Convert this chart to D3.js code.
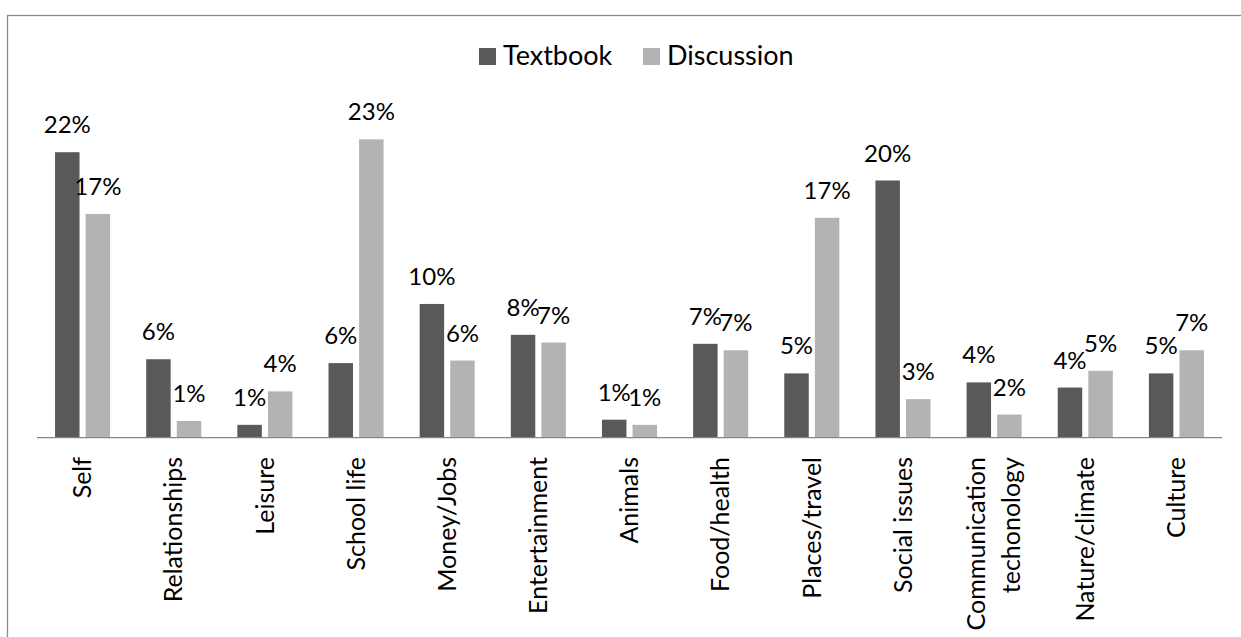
<!DOCTYPE html>
<html>
<head>
<meta charset="utf-8">
<script src="https://cdn.jsdelivr.net/npm/d3@7"></script>
<style>
  body { margin: 0; background: #fff; }
  text { font-family: Lato, "Open Sans", sans-serif; fill: #000; }
</style>
</head>
<body>
<div id="chart-area"></div>
<script>
// Data (share of topics)
const categories = ["Self", "Relationships", "Leisure", "School life", "Money/Jobs",
  "Entertainment", "Animals", "Food/health", "Places/travel", "Social issues",
  "Communication\ntechonology", "Nature/climate", "Culture"];
const series = ["Textbook", "Discussion"];
const textbook   = [0.222, 0.061, 0.010, 0.058, 0.104, 0.080, 0.014, 0.073, 0.050, 0.200, 0.043, 0.039, 0.050];
const discussion = [0.174, 0.013, 0.036, 0.232, 0.060, 0.074, 0.010, 0.068, 0.171, 0.030, 0.018, 0.052, 0.068];

const W = 1241, H = 637;
const baseY = 437.7;
const colors = { Textbook: "#595959", Discussion: "#b3b3b3" };

const svg = d3.select("#chart-area")
  .append("svg")
    .attr("width", W)
    .attr("height", H);

// outer frame (runs off the right and bottom edges)
svg.append("rect")
  .attr("x", 7.5)
  .attr("y", 15.5)
  .attr("width", W)
  .attr("height", H)
  .attr("fill", "none")
  .attr("stroke", "#8c8c8c")
  .attr("stroke-width", 1.3);

const x0 = d3.scaleBand()
  .domain(categories)
  .range([37, 1222]);

const x1 = d3.scaleBand()
  .domain(series)
  .range([0, x0.bandwidth()])
  .paddingInner(0.2)
  .paddingOuter(0.59);

const y = d3.scaleLinear()
  .domain([0, 0.25])
  .range([baseY, baseY - 25 * 12.86]);

const rows = categories.map((c, i) => ({
  cat: c,
  vals: [{ s: "Textbook", v: textbook[i] }, { s: "Discussion", v: discussion[i] }]
}));

const groups = svg.selectAll("g.cat")
  .data(rows)
  .enter()
  .append("g")
    .attr("class", "cat")
    .attr("transform", d => "translate(" + x0(d.cat) + ",0)");

groups.selectAll("rect")
  .data(d => d.vals)
  .enter()
  .append("rect")
    .attr("x", d => x1(d.s))
    .attr("width", x1.bandwidth())
    .attr("y", d => y(d.v))
    .attr("height", d => baseY - y(d.v))
    .attr("fill", d => colors[d.s]);

// data labels
groups.selectAll("text.val")
  .data(d => d.vals)
  .enter()
  .append("text")
    .attr("class", "val")
    .attr("x", d => x1(d.s) + x1.bandwidth() / 2)
    .attr("y", d => y(d.v) - 19)
    .attr("text-anchor", "middle")
    .attr("font-size", "24px")
    .text(d => Math.round(d.v * 100) + "%");

// x axis line
svg.append("line")
  .attr("x1", 37)
  .attr("x2", 1222)
  .attr("y1", baseY)
  .attr("y2", baseY)
  .attr("stroke", "#868686")
  .attr("stroke-width", 1.2);

// category labels, rotated
const catLabels = svg.selectAll("text.cat")
  .data(categories)
  .enter()
  .append("text")
    .attr("class", "cat")
    .attr("font-size", "25px")
    .attr("text-anchor", "end")
    .attr("transform", d => "translate(" + (x0(d) + x0.bandwidth() / 2) + ",457) rotate(-90)");

catLabels.each(function(d) {
  const lines = d.split("\n");
  const el = d3.select(this);
  lines.forEach((ln, k) => {
    const off = (k - (lines.length - 1) / 2) * 35;
    el.append("tspan")
      .attr("x", 0)
      .attr("y", off)
      .attr("dy", "0.35em")
      .text(ln);
  });
});

// legend
const legendX = [479, 643];
series.forEach((s, i) => {
  svg.append("rect")
    .attr("x", legendX[i])
    .attr("y", 48)
    .attr("width", 17)
    .attr("height", 17)
    .attr("fill", colors[s]);
  svg.append("text")
    .attr("x", legendX[i] + 24)
    .attr("y", 65)
    .attr("font-size", "27px")
    .text(s);
});
</script>
</body>
</html>
